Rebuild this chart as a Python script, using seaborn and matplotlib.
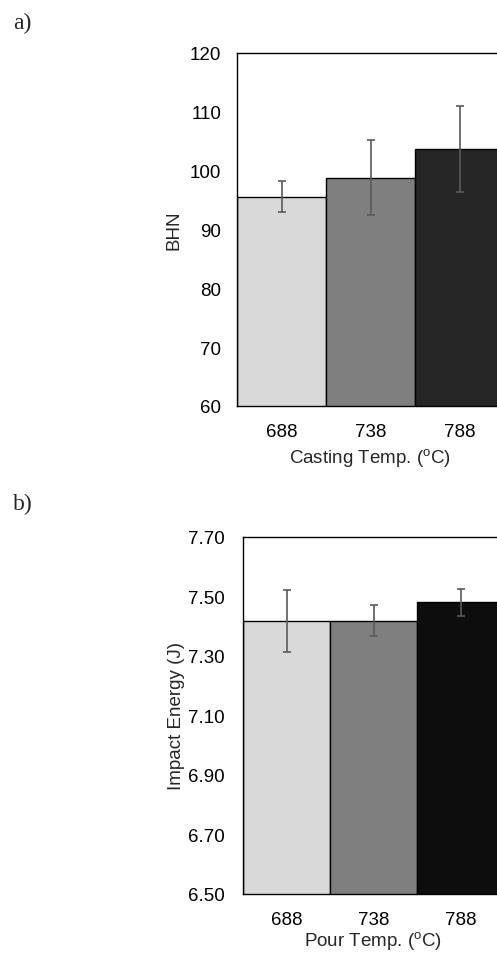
import numpy as np
import pandas as pd
import matplotlib
matplotlib.use("Agg")
import matplotlib.pyplot as plt
import seaborn as sns

# data
temps = ["688", "738", "788"]
bhn_mean = [95.6, 98.8, 103.7]
bhn_err = [2.6, 6.4, 7.3]
impact_mean = [7.418, 7.418, 7.481]
impact_err = [0.105, 0.052, 0.045]

colors_a = ["#d9d9d9", "#7f7f7f", "#262626"]
colors_b = ["#d9d9d9", "#7f7f7f", "#0d0d0d"]

sns.set_theme(style="white")
plt.rcParams["font.family"] = ["Liberation Sans", "DejaVu Sans"]
plt.rcParams["mathtext.fontset"] = "custom"
plt.rcParams["mathtext.rm"] = "Liberation Sans"

fig = plt.figure(figsize=(4.97, 9.54), dpi=100)
W, H = 497, 954
FS = 13.5


def add_ax(left, top, right, bottom):
    return fig.add_axes([left / W, 1 - bottom / H, (right - left) / W, (bottom - top) / H])


def panel(ax, means, errs, colors, ylim, yticks, fmt, xlabel, ylabel, ypad, ylpad, xlpad):
    df = pd.DataFrame({"temp": temps, "val": means})
    sns.barplot(data=df, x="temp", y="val", hue="temp", palette=colors,
                width=1.0, edgecolor="black", linewidth=1.0, legend=False,
                errorbar=None, ax=ax)
    ax.errorbar(np.arange(len(temps)), means, yerr=errs, fmt="none",
                ecolor="#5a5a5a", elinewidth=1.2, capsize=3, capthick=1.2)
    ax.set_xlim(-0.5, 2.5)
    ax.set_ylim(*ylim)
    ax.set_yticks(yticks)
    ax.set_yticklabels([fmt.format(v) for v in yticks])
    ax.tick_params(axis="both", length=0, labelsize=FS, colors="black")
    ax.tick_params(axis="y", pad=ypad)
    ax.tick_params(axis="x", pad=12)
    ax.set_xlabel(xlabel, fontsize=FS, labelpad=xlpad)
    ax.set_ylabel(ylabel, fontsize=FS, labelpad=ylpad)
    for s in ax.spines.values():
        s.set_color("black")
        s.set_linewidth(1.0)


ax1 = add_ax(237, 54, 504, 407)
panel(ax1, bhn_mean, bhn_err, colors_a, (60, 120), [60, 70, 80, 90, 100, 110, 120],
      "{:.0f}", r"Casting Temp. ($^{\mathrm{o}}$C)", "BHN", 11.5, 5, 5)

ax2 = add_ax(243, 538, 504, 895)
panel(ax2, impact_mean, impact_err, colors_b, (6.5, 7.7), [6.5, 6.7, 6.9, 7.1, 7.3, 7.5, 7.7],
      "{:.2f}", r"Pour Temp. ($^{\mathrm{o}}$C)", "Impact Energy (J)", 13, 2, 1.5)

fig.text(13 / W, 1 - 23 / H, "a)", family=["Liberation Serif", "DejaVu Serif"],
         fontsize=17, va="center", ha="left")
fig.text(13 / W, 1 - 504 / H, "b)", family=["Liberation Serif", "DejaVu Serif"],
         fontsize=17, va="center", ha="left")

fig.savefig("out.png", dpi=100)
